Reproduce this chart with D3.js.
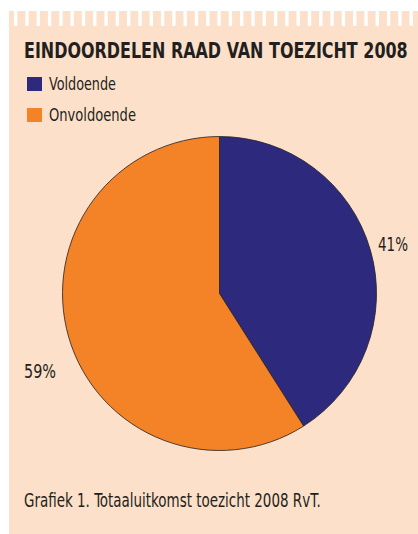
<!DOCTYPE html>
<html>
<head>
<meta charset="utf-8">
<script src="https://cdn.jsdelivr.net/npm/d3@7"></script>
<style>
  html, body { margin: 0; padding: 0; background: #fff; }
  svg { display: block; }
  text { font-family: "Liberation Sans Narrow", "DejaVu Sans Condensed", "Roboto Condensed", sans-serif; fill: #231f20; }
</style>
</head>
<body>
<div id="chart"></div>
<script>
const title = "EINDOORDELEN RAAD VAN TOEZICHT 2008";
const caption = "Grafiek 1. Totaaluitkomst toezicht 2008 RvT.";
const categories = ["Voldoende", "Onvoldoende"];
const values = [41, 59];
const colors = ["#2d2a7d", "#f38326"];

const width = 418;
const height = 534;
const cx = 219.5;
const cy = 293.5;
const radius = 157;

const svg = d3.select("#chart").append("svg")
  .attr("width", width)
  .attr("height", height);

// squeeze a text horizontally so it spans w pixels from (x, y)
function fitText(sel, x, y, w) {
  sel.each(function () {
    const natural = this.getComputedTextLength();
    const sx = natural > 0 ? w / natural : 1;
    d3.select(this).attr("transform", `translate(${x},${y}) scale(${sx},1)`);
  });
}

// peach panel with striped top edge
svg.append("rect")
  .attr("x", 9).attr("y", 11)
  .attr("width", width - 9).attr("height", height - 11)
  .attr("fill", "#fde0c9");

svg.append("g")
  .selectAll("rect")
  .data(d3.range(14, width, 11.3))
  .join("rect")
  .attr("x", (d) => d)
  .attr("y", 11)
  .attr("width", 3.4)
  .attr("height", 15)
  .attr("fill", "#fff");

svg.append("text")
  .attr("font-size", 21)
  .attr("font-weight", "bold")
  .text(title)
  .call(fitText, 24, 58, 384);

// legend
const legend = svg.append("g")
  .selectAll("g")
  .data(categories)
  .join("g")
  .attr("transform", (d, i) => `translate(27,${77 + i * 31})`);

legend.append("rect")
  .attr("width", 15).attr("height", 14)
  .attr("fill", (d, i) => colors[i]);

legend.append("text")
  .attr("font-size", 18)
  .text((d) => d)
  .each(function (d, i) {
    d3.select(this).call(fitText, 22, 13, i === 0 ? 67 : 87);
  });

// pie
const pie = d3.pie().sort(null).value((d) => d);
const arc = d3.arc().innerRadius(0).outerRadius(radius);
const arcs = pie(values);

const gPie = svg.append("g").attr("transform", `translate(${cx},${cy})`);
gPie.selectAll("path")
  .data(arcs)
  .join("path")
  .attr("d", arc)
  .attr("fill", (d, i) => colors[i])
  .attr("stroke", "#231f20")
  .attr("stroke-width", 0.8);

// percentage labels outside
const labelPos = [
  { x: 378, y: 251, w: 30 },
  { x: 24, y: 378, w: 32 },
];
svg.append("g")
  .selectAll("text")
  .data(arcs)
  .join("text")
  .attr("font-size", 19)
  .text((d) => `${d.data}%`)
  .each(function (d, i) {
    const p = labelPos[i];
    d3.select(this).call(fitText, p.x, p.y, p.w);
  });

svg.append("text")
  .attr("font-size", 19)
  .text(caption)
  .call(fitText, 24, 507, 297);
</script>
</body>
</html>
